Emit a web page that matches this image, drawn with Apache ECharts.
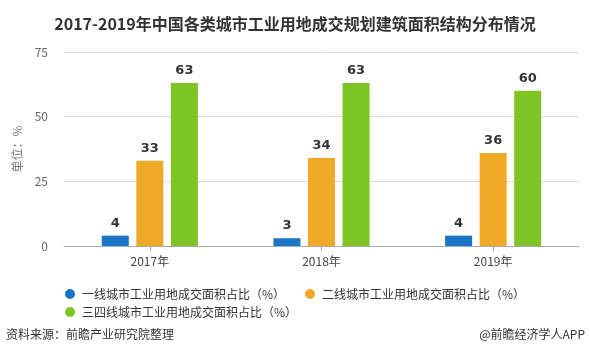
<!DOCTYPE html>
<html>
<head>
<meta charset="utf-8">
<script src="https://cdn.jsdelivr.net/npm/echarts@6/dist/echarts.min.js"></script>
<style>html,body{margin:0;padding:0;background:#fff;}#c{width:590px;height:364px;}</style>
</head>
<body>
<div id="c"></div>
<script>
var categories = ['2017年', '2018年', '2019年'];
var seriesNames = ['一线城市工业用地成交面积占比（%）', '二线城市工业用地成交面积占比（%）', '三四线城市工业用地成交面积占比（%）'];
var tier1 = [4, 3, 4];
var tier2 = [33, 34, 36];
var tier34 = [63, 63, 60];
var yTicks = [0, 25, 50, 75];
var colors = ['#1B74C4', '#EFA927', '#7DC424'];

var FONT = '"Noto Sans CJK SC", "Microsoft YaHei", sans-serif';
var chart = echarts.init(document.getElementById('c'));

function bar(name, data, color) {
  return {
    name: name, type: 'bar', data: data, barWidth: 27, barGap: '28%',
    itemStyle: { color: color },
    label: { show: true, position: 'top', distance: 6, color: '#333', fontWeight: 'bold', fontSize: 13, fontFamily: '"DejaVu Sans", Verdana, sans-serif' }
  };
}
function legendAt(i, left, top) {
  return {
    data: [seriesNames[i]], left: left, top: top, icon: 'circle', itemWidth: 10, itemHeight: 10, itemGap: 0,
    textStyle: { fontSize: 12, color: '#333', fontFamily: FONT, padding: [0, 0, 0, 2] }, padding: 0
  };
}

chart.setOption({
  backgroundColor: '#fff',
  animation: false,
  textStyle: { fontFamily: FONT },
  title: {
    text: '2017-2019年中国各类城市工业用地成交规划建筑面积结构分布情况',
    left: 'center', top: 11,
    textStyle: { fontSize: 16, fontWeight: 'bold', color: '#333', fontFamily: FONT }
  },
  legend: [legendAt(0, 65, 288), legendAt(1, 305, 288), legendAt(2, 65, 306)],
  grid: { left: 64, right: 11, top: 52, bottom: 118 },
  xAxis: {
    type: 'category', data: categories,
    axisLine: { lineStyle: { color: '#aaa' } },
    axisTick: { show: true, alignWithLabel: true, length: 5, lineStyle: { color: '#aaa' } },
    axisLabel: { color: '#444', fontSize: 12, margin: 9, fontFamily: FONT }
  },
  yAxis: {
    type: 'value', min: yTicks[0], max: yTicks[yTicks.length - 1], interval: 25,
    name: '单位：%', nameLocation: 'middle', nameRotate: 90, nameGap: 41,
    nameTextStyle: { color: '#777', fontSize: 12, fontFamily: FONT },
    axisLine: { show: false }, axisTick: { show: false },
    axisLabel: { color: '#666', fontSize: 12, margin: 16, fontFamily: FONT },
    splitLine: { lineStyle: { color: '#dcdcdc' } }
  },
  graphic: [
    { type: 'text', left: 6, top: 328, style: { text: '资料来源：前瞻产业研究院整理', fill: '#333', fontSize: 12, fontFamily: FONT } },
    { type: 'text', right: 5, top: 328, style: { text: '@前瞻经济学人APP', fill: '#333', fontSize: 12, fontFamily: FONT } }
  ],
  series: [bar(seriesNames[0], tier1, colors[0]), bar(seriesNames[1], tier2, colors[1]), bar(seriesNames[2], tier34, colors[2])]
});
</script>
</body>
</html>
